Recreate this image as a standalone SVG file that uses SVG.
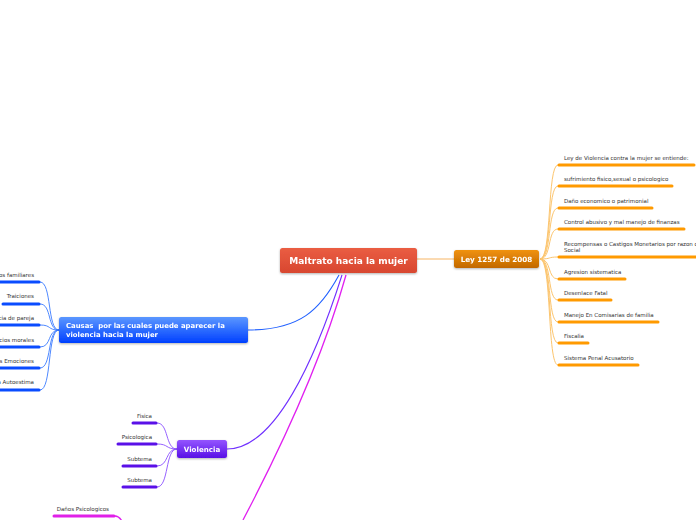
<svg xmlns="http://www.w3.org/2000/svg" width="696" height="520" viewBox="0 0 696 520">
<defs>
<linearGradient id="gRed" x1="0" y1="0" x2="0" y2="1"><stop offset="0" stop-color="#ea5d43"/><stop offset="1" stop-color="#d8472f"/></linearGradient>
<linearGradient id="gOr" x1="0" y1="0" x2="0" y2="1"><stop offset="0" stop-color="#f0920c"/><stop offset="1" stop-color="#c26800"/></linearGradient>
<linearGradient id="gBl" x1="0" y1="0" x2="0" y2="1"><stop offset="0" stop-color="#5b97ff"/><stop offset="1" stop-color="#0040ff"/></linearGradient>
<linearGradient id="gPu" x1="0" y1="0" x2="0" y2="1"><stop offset="0" stop-color="#9455ff"/><stop offset="1" stop-color="#5810e6"/></linearGradient>
<filter id="sh" x="-10%" y="-20%" width="120%" height="150%"><feDropShadow dx="0" dy="1" stdDeviation="0.8" flood-color="#000" flood-opacity="0.3"/></filter>
</defs>
<style>
text{font-family:"DejaVu Sans","Verdana",sans-serif}
.nt{fill:#fff;font-weight:bold}
.ct{fill:#333;font-size:5.5px}
.ol{fill:none;stroke:#fcc56e;stroke-width:1}
.bl{fill:none;stroke:#3a7bff;stroke-width:0.9}
.pl{fill:none;stroke:#8a50ff;stroke-width:0.9}
.ml{fill:none;stroke:#e020f0;stroke-width:1.3}
.uo{stroke:#ff9a00;stroke-width:3;stroke-linecap:round}
.ub{stroke:#0a4cff;stroke-width:3;stroke-linecap:round}
.up{stroke:#5a10e8;stroke-width:3;stroke-linecap:round}
.um{stroke:#e020e8;stroke-width:3;stroke-linecap:round}
</style>
<g id="connectors">
<path d="M417,259 L454,259" fill="none" stroke="#f7b564" stroke-width="1"/>
<path d="M248,330 C300,330 320,310 339,275" fill="none" stroke="#2060ff" stroke-width="1.1"/>
<path d="M227,449 C275,449 315,360 342,275" fill="none" stroke="#7030ff" stroke-width="1.1"/>
<path class="ml" d="M243,520 C285,440 325,350 346,275"/>
<path class="ol" d="M540,259 C552,259 547,165 558,165"/>
<path class="ol" d="M540,259 C552,259 547,186 558,186"/>
<path class="ol" d="M540,259 C552,259 547,208 558,208"/>
<path class="ol" d="M540,259 C552,259 547,229 558,229"/>
<path class="ol" d="M540,259 C552,259 547,257 558,257"/>
<path class="ol" d="M540,259 C552,259 547,279 558,279"/>
<path class="ol" d="M540,259 C552,259 547,300 558,300"/>
<path class="ol" d="M540,259 C552,259 547,322 558,322"/>
<path class="ol" d="M540,259 C552,259 547,343 558,343"/>
<path class="ol" d="M540,259 C552,259 547,365 558,365"/>
<path class="bl" d="M59,330 C47,330 52,282 40,282"/>
<path class="bl" d="M59,330 C47,330 52,304 40,304"/>
<path class="bl" d="M59,330 C47,330 52,325 40,325"/>
<path class="bl" d="M59,330 C47,330 52,347 40,347"/>
<path class="bl" d="M59,330 C47,330 52,368 40,368"/>
<path class="bl" d="M59,330 C47,330 52,390 40,390"/>
<path class="pl" d="M177,449 C165,449 169,423 157,423"/>
<path class="pl" d="M177,449 C165,449 169,444 157,444"/>
<path class="pl" d="M177,449 C165,449 169,466 157,466"/>
<path class="pl" d="M177,449 C165,449 169,487 157,487"/>
<path class="ml" d="M115,516 C119,516 121,519 123,523" stroke-width="0.9"/>
</g>
<g id="n-center" filter="url(#sh)">
<rect x="280" y="248" width="137" height="25" rx="2.5" fill="url(#gRed)"/>
<text class="nt" x="348.5" y="264.3" font-size="9" text-anchor="middle">Maltrato hacia la mujer</text>
</g>
<g id="n-ley" filter="url(#sh)">
<rect x="454" y="250" width="85" height="18" rx="2.5" fill="url(#gOr)"/>
<text class="nt" x="496.5" y="262" font-size="7.2" text-anchor="middle">Ley 1257 de 2008</text>
</g>
<g id="n-causas" filter="url(#sh)">
<rect x="59" y="317" width="189" height="26" rx="2.5" fill="url(#gBl)"/>
<text class="nt" x="66" y="328" font-size="6.9" xml:space="preserve">Causas  por las cuales puede aparecer la</text>
<text class="nt" x="66" y="336.5" font-size="6.9">violencia hacia la mujer</text>
</g>
<g id="n-violencia" filter="url(#sh)">
<rect x="177" y="440" width="50" height="18" rx="2.5" fill="url(#gPu)"/>
<text class="nt" x="202" y="451.7" font-size="7.1" text-anchor="middle">Violencia</text>
</g>
<g id="ley-children">
<g id="l1"><text class="ct" x="564" y="160">Ley de Violencia contra la mujer se entiende:</text><line class="uo" x1="559" y1="165" x2="694" y2="165"/></g>
<g id="l2"><text class="ct" x="564" y="181">sufrimiento fisico,sexual o psicologico</text><line class="uo" x1="559" y1="186" x2="672" y2="186"/></g>
<g id="l3"><text class="ct" x="564" y="203">Daño economico o patrimonial</text><line class="uo" x1="559" y1="208" x2="652" y2="208"/></g>
<g id="l4"><text class="ct" x="564" y="224">Control abusivo y mal manejo de finanzas</text><line class="uo" x1="559" y1="229" x2="684" y2="229"/></g>
<g id="l5"><text class="ct" x="564" y="246">Recompensas o Castigos Monetarios por razon de Estatus</text><text class="ct" x="564" y="252">Social</text><line class="uo" x1="559" y1="257" x2="697" y2="257"/></g>
<g id="l6"><text class="ct" x="564" y="274">Agresion sistematica</text><line class="uo" x1="559" y1="279" x2="625" y2="279"/></g>
<g id="l7"><text class="ct" x="564" y="295">Desenlace Fatal</text><line class="uo" x1="559" y1="300" x2="611" y2="300"/></g>
<g id="l8"><text class="ct" x="564" y="317">Manejo En Comisarias de familia</text><line class="uo" x1="559" y1="322" x2="658" y2="322"/></g>
<g id="l9"><text class="ct" x="564" y="338">Fiscalia</text><line class="uo" x1="559" y1="343" x2="588" y2="343"/></g>
<g id="l10"><text class="ct" x="564" y="360">Sistema Penal Acusatorio</text><line class="uo" x1="559" y1="365" x2="638" y2="365"/></g>
</g>
<g id="causas-children">
<g id="c1"><text class="ct" x="34" y="277" text-anchor="end">Conflictos familiares</text><line class="ub" x1="-20" y1="282" x2="39" y2="282"/></g>
<g id="c2"><text class="ct" x="34" y="298" text-anchor="end">Traiciones</text><line class="ub" x1="3" y1="304" x2="39" y2="304"/></g>
<g id="c3"><text class="ct" x="34" y="320" text-anchor="end">Dependencia de pareja</text><line class="ub" x1="-20" y1="325" x2="39" y2="325"/></g>
<g id="c4"><text class="ct" x="34" y="342" text-anchor="end">Prejuicios morales</text><line class="ub" x1="-20" y1="347" x2="39" y2="347"/></g>
<g id="c5"><text class="ct" x="34" y="363" text-anchor="end">Control de las Emociones</text><line class="ub" x1="-20" y1="368" x2="39" y2="368"/></g>
<g id="c6"><text class="ct" x="34" y="384" text-anchor="end">Baja Autoestima</text><line class="ub" x1="-20" y1="390" x2="39" y2="390"/></g>
</g>
<g id="violencia-children">
<g id="v1"><text class="ct" x="152" y="418" text-anchor="end">Fisica</text><line class="up" x1="133" y1="423" x2="156" y2="423"/></g>
<g id="v2"><text class="ct" x="152" y="439" text-anchor="end">Psicologica</text><line class="up" x1="118" y1="444" x2="156" y2="444"/></g>
<g id="v3"><text class="ct" x="152" y="461" text-anchor="end">Subtema</text><line class="up" x1="123" y1="466" x2="156" y2="466"/></g>
<g id="v4"><text class="ct" x="152" y="482" text-anchor="end">Subtema</text><line class="up" x1="123" y1="487" x2="156" y2="487"/></g>
</g>
<g id="m-child">
<text class="ct" x="109" y="511" text-anchor="end">Daños Psicologicos</text><line class="um" x1="54" y1="516" x2="114" y2="516"/>
</g>
</svg>
